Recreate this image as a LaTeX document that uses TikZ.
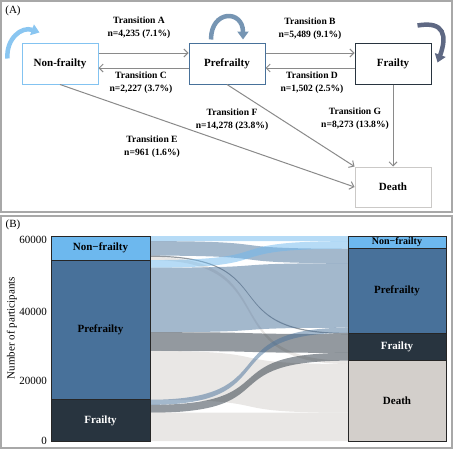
\documentclass[tikz,border=0pt]{standalone}
\usepackage{fontspec}
\setmainfont{Liberation Serif}
\definecolor{nonfrailblue}{HTML}{6DB8EE}
\definecolor{prefrailblue}{HTML}{48719A}
\definecolor{frailnavy}{HTML}{28343F}
\definecolor{deathgray}{HTML}{D3CFCB}
\definecolor{loopslate}{HTML}{5E6883}
\definecolor{panelgray}{HTML}{A8A8A8}
\definecolor{arrowgray}{HTML}{8A8A8A}
\usetikzlibrary{arrows.meta,positioning}
\tikzset{
    statebox/.style={
        draw,
        fill=white,
        line width=1pt,
        minimum width=76pt,
        minimum height=41pt,
        align=center,
        font=\fontsize{11}{13}\selectfont\bfseries
    },
    transitionarrow/.style={
        -{Straight Barb[length=4pt,width=8pt]},
        draw=arrowgray,
        line width=1pt
    },
    transitionlabel/.style={
        align=center,
        inner sep=0pt,
        font=\fontsize{9.6}{13}\selectfont\bfseries
    },
    selfloop/.style={
        -{Triangle[length=8pt,width=11pt]},
        line width=4.5pt
    },
    panelframe/.style={
        draw=panelgray,
        line width=1.2pt
    },
    stratumbox/.style={
        draw=black!85,
        line width=0.6pt,
        inner sep=0pt,
        minimum width=98pt,
        font=\fontsize{11}{13}\selectfont\bfseries
    },
    flowband/.style={
        fill opacity=0.5
    },
    ticklabel/.style={
        anchor=east,
        inner sep=0pt,
        font=\fontsize{11}{13}\selectfont
    }
}
% one alluvial band: left top, left bottom, right top, right bottom, colour
\newcommand{\flowband}[5]{%
    \fill[flowband,#5] (150,#1) .. controls (288.6,#1) and (209.4,#3) ..
        (348,#3) -- (348,#4) .. controls (209.4,#4) and (288.6,#2) ..
        (150,#2) -- cycle;}

\begin{document}
\begin{tikzpicture}[x=1pt,y=-1pt]
    \useasboundingbox (0,0) rectangle (454,450);

    % panel A
    \draw[panelframe] (1,1) rectangle (452,212);
    \node[font=\fontsize{11}{13}\selectfont] (panelA) at (13,11) {(A)};

    \node[statebox,draw=nonfrailblue!85] (nonFrailty) at (60,63.5) {Non-frailty};
    \node[statebox,draw=prefrailblue] (preFrailty) at (227,63.5) {Prefrailty};
    \node[statebox,draw=frailnavy] (frailty) at (393,63.5) {Frailty};
    \node[statebox,draw=deathgray!80!black!60,minimum height=40pt] (death) at (393,187) {Death};

    \draw[transitionarrow] ([yshift=10.5pt]nonFrailty.east) -- ([yshift=10.5pt]preFrailty.west);
    \draw[transitionarrow] ([yshift=-4.5pt]preFrailty.west) -- ([yshift=-4.5pt]nonFrailty.east);
    \draw[transitionarrow] ([yshift=10.5pt]preFrailty.east) -- ([yshift=10.5pt]frailty.west);
    \draw[transitionarrow] ([yshift=-4.5pt]frailty.west) -- ([yshift=-4.5pt]preFrailty.east);
    \draw[transitionarrow] (nonFrailty.south) -- (death.west);
    \draw[transitionarrow] (preFrailty.south) -- (death.north west);
    \draw[transitionarrow] (frailty.south) -- (death.north);

    \node[transitionlabel] (labelA) at (139,27.5) {Transition A\\n=4,235 (7.1\%)};
    \node[transitionlabel] (labelC) at (141,83) {Transition C\\n=2,227 (3.7\%)};
    \node[transitionlabel] (labelB) at (310,28.5) {Transition B\\n=5,489 (9.1\%)};
    \node[transitionlabel] (labelD) at (312,83) {Transition D\\n=1,502 (2.5\%)};
    \node[transitionlabel] (labelE) at (152,147) {Transition E\\n=961 (1.6\%)};
    \node[transitionlabel] (labelF) at (232,119.5) {Transition F\\n=14,278 (23.8\%)};
    \node[transitionlabel] (labelG) at (355,119) {Transition G\\n=8,273 (13.8\%)};

    \draw[selfloop,draw=nonfrailblue!80] ([shift={(-14pt,5pt)}]nonFrailty.west)
        to[out=95,in=160,looseness=1.2] ([shift={(18pt,10pt)}]nonFrailty.north west);
    \draw[selfloop,draw=prefrailblue!75] ([shift={(-16pt,3pt)}]preFrailty.north)
        to[out=90,in=90,looseness=2.4] ([shift={(16pt,3pt)}]preFrailty.north);
    \draw[selfloop,draw=loopslate] ([shift={(-14pt,17pt)}]frailty.north east)
        to[out=10,in=70,looseness=1.7] ([shift={(6pt,-20pt)}]frailty.north east);

    % panel B
    \draw[panelframe] (1,216) rectangle (452,448);
    \node[font=\fontsize{11}{13}\selectfont] (panelB) at (13,225) {(B)};

    \flowband{236.00}{241.13}{236.00}{241.13}{nonfrailblue}
    \flowband{241.13}{255.60}{248.73}{263.20}{prefrailblue}
    \flowband{255.60}{256.79}{332.86}{334.06}{frailnavy}
    \flowband{256.79}{260.07}{360.67}{363.95}{deathgray}
    \flowband{260.07}{267.68}{241.13}{248.73}{nonfrailblue}
    \flowband{267.68}{332.20}{263.20}{327.73}{prefrailblue}
    \flowband{332.20}{350.96}{334.06}{352.81}{frailnavy}
    \flowband{350.96}{399.74}{363.95}{412.73}{deathgray}
    \flowband{399.74}{404.87}{327.73}{332.86}{prefrailblue}
    \flowband{404.87}{412.73}{352.81}{360.67}{frailnavy}
    \flowband{412.73}{441.00}{412.73}{441.00}{deathgray}

    \node[stratumbox,fill=nonfrailblue,minimum height=24.07pt,minimum width=99pt] (leftNonFrailty) at (100.5,248.03) {Non−frailty};
    \node[stratumbox,fill=prefrailblue,minimum height=139.67pt,minimum width=99pt] (leftPreFrailty) at (100.5,329.9) {Prefrailty};
    \node[stratumbox,fill=frailnavy,text=white,minimum height=41.26pt,minimum width=99pt] (leftFrailty) at (100.5,420.37) {Frailty};

    \node[stratumbox,fill=nonfrailblue,minimum height=12.73pt,font=\fontsize{10}{12}\selectfont\bfseries] (rightNonFrailty) at (397,242.37) {Non−frailty};
    \node[stratumbox,fill=prefrailblue,minimum height=84.13pt] (rightPreFrailty) at (397,290.8) {Prefrailty};
    \node[stratumbox,fill=frailnavy,text=white,minimum height=27.81pt] (rightFrailty) at (397,346.77) {Frailty};
    \node[stratumbox,fill=deathgray,minimum height=80.33pt] (rightDeath) at (397,400.83) {Death};

    \node[ticklabel] (tickSixty) at (47,240) {60000};
    \node[ticklabel] (tickForty) at (47,312) {40000};
    \node[ticklabel] (tickTwenty) at (47,381) {20000};
    \node[ticklabel] (tickZero) at (47,441) {0};
    \node[rotate=90,font=\fontsize{11}{13}\selectfont] (axisTitle) at (12,328) {Number of participants};
\end{tikzpicture}
\end{document}
